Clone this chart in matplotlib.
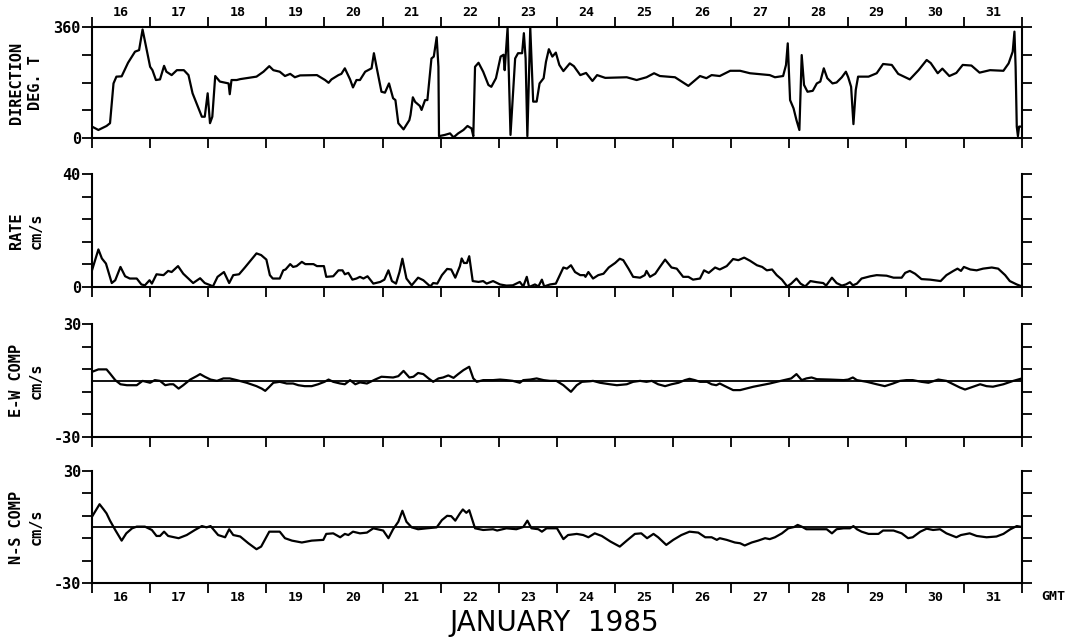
import matplotlib
matplotlib.use("Agg")
import matplotlib.pyplot as plt
from matplotlib.ticker import FixedLocator, FixedFormatter, NullFormatter

# ---------------------------------------------------------------- data
day_labels = [str(d) for d in range(16, 32)]

dir_day = [16.00, 16.11, 16.25, 16.31, 16.37, 16.42, 16.51, 16.62, 16.74, 16.81, 16.87,
           17.00, 17.04, 17.10, 17.17, 17.24, 17.28, 17.37, 17.46, 17.58, 17.66, 17.73,
           17.80, 17.89, 17.94, 17.99, 18.03, 18.07, 18.12, 18.20, 18.35, 18.37, 18.40,
           18.49, 18.55, 18.83, 18.95, 19.05, 19.12, 19.23, 19.32, 19.41, 19.49, 19.58,
           19.87, 20.01, 20.07, 20.12, 20.24, 20.29, 20.35, 20.44, 20.49, 20.55, 20.61,
           20.70, 20.81, 20.85, 20.90, 20.98, 21.04, 21.11, 21.18, 21.22, 21.27, 21.36,
           21.46, 21.48, 21.52, 21.56, 21.64, 21.67, 21.73, 21.77, 21.84, 21.88, 21.93,
           21.96, 21.97, 22.07, 22.16, 22.22, 22.30, 22.39, 22.46, 22.53, 22.56, 22.59,
           22.65, 22.73, 22.82, 22.87, 22.95, 23.03, 23.08, 23.10, 23.15, 23.20, 23.28,
           23.33, 23.40, 23.43, 23.46, 23.49, 23.54, 23.59, 23.65, 23.70, 23.77, 23.81,
           23.86, 23.92, 23.98, 24.04, 24.11, 24.22, 24.29, 24.40, 24.50, 24.61, 24.69,
           24.83, 25.20, 25.37, 25.54, 25.67, 25.77, 26.03, 26.26, 26.46, 26.57, 26.66,
           26.80, 26.98, 27.15, 27.32, 27.66, 27.75, 27.89, 27.94, 27.97, 28.01, 28.07,
           28.12, 28.17, 28.21, 28.25, 28.31, 28.40, 28.47, 28.53, 28.59, 28.65, 28.74,
           28.81, 28.90, 28.97, 29.01, 29.06, 29.10, 29.14, 29.18, 29.36, 29.50, 29.61,
           29.76, 29.87, 30.07, 30.22, 30.36, 30.43, 30.55, 30.63, 30.75, 30.87, 30.98,
           31.13, 31.27, 31.45, 31.68, 31.77, 31.84, 31.87, 31.89, 31.91, 31.93, 31.95,
           32.00]
dir_deg = [37, 26, 39, 48, 177, 199, 200, 244, 280, 285, 352,
           231, 220, 188, 190, 234, 215, 204, 220, 220, 204, 145,
           112, 69, 69, 145, 48, 69, 201, 183, 177, 142, 188,
           188, 191, 199, 215, 233, 220, 215, 201, 208, 197, 203,
           204, 188, 179, 190, 204, 208, 226, 190, 164, 188, 188,
           215, 226, 275, 226, 150, 147, 177, 129, 123, 48, 28,
           58, 75, 132, 117, 104, 91, 123, 123, 258, 264, 327,
           231, 6, 10, 15, 2, 15, 26, 39, 31, 6, 231,
           244, 215, 172, 166, 194, 264, 270, 220, 358, 10, 258,
           275, 275, 340, 258, 6, 358, 118, 118, 177, 194, 247,
           288, 264, 277, 237, 217, 242, 233, 204, 211, 185, 204,
           195, 197, 188, 197, 210, 201, 197, 169, 201, 194, 204,
           201, 218, 218, 210, 204, 197, 201, 237, 307, 123, 96,
           58, 26, 269, 172, 150, 153, 177, 183, 226, 194, 177,
           180, 197, 215, 197, 166, 45, 156, 199, 199, 210, 240,
           237, 208, 190, 220, 253, 243, 210, 225, 201, 211, 237,
           235, 212, 220, 218, 242, 280, 345, 231, 37, 6, 37,
           37]

rate_day = [16.00, 16.11, 16.17, 16.24, 16.34, 16.40, 16.49, 16.57, 16.65, 16.77, 16.85,
            16.91, 16.99, 17.03, 17.11, 17.23, 17.31, 17.37, 17.48, 17.57, 17.74, 17.86,
            17.94, 18.04, 18.08, 18.16, 18.27, 18.36, 18.43, 18.53, 18.63, 18.71, 18.83,
            18.91, 19.00, 19.06, 19.11, 19.23, 19.29, 19.33, 19.41, 19.46, 19.52, 19.61,
            19.67, 19.81, 19.87, 19.99, 20.03, 20.15, 20.24, 20.31, 20.35, 20.41, 20.48,
            20.55, 20.61, 20.67, 20.74, 20.84, 20.96, 21.03, 21.10, 21.16, 21.23, 21.29,
            21.34, 21.41, 21.50, 21.61, 21.70, 21.82, 21.87, 21.94, 22.02, 22.11, 22.18,
            22.25, 22.33, 22.36, 22.40, 22.45, 22.49, 22.55, 22.65, 22.73, 22.79, 22.90,
            23.02, 23.13, 23.24, 23.36, 23.42, 23.48, 23.52, 23.62, 23.68, 23.74, 23.78,
            23.88, 23.98, 24.11, 24.17, 24.24, 24.31, 24.40, 24.47, 24.49, 24.54, 24.62,
            24.71, 24.80, 24.89, 25.00, 25.08, 25.14, 25.23, 25.31, 25.43, 25.51, 25.54,
            25.60, 25.69, 25.77, 25.86, 25.97, 26.06, 26.17, 26.26, 26.34, 26.46, 26.53,
            26.61, 26.72, 26.80, 26.92, 27.03, 27.12, 27.22, 27.32, 27.44, 27.53, 27.61,
            27.70, 27.78, 27.87, 27.96, 28.03, 28.12, 28.19, 28.27, 28.36, 28.47, 28.58,
            28.63, 28.73, 28.81, 28.90, 28.97, 29.04, 29.09, 29.16, 29.24, 29.39, 29.50,
            29.67, 29.79, 29.93, 29.99, 30.07, 30.16, 30.27, 30.42, 30.60, 30.70, 30.82,
            30.89, 30.95, 31.00, 31.11, 31.22, 31.33, 31.48, 31.59, 31.71, 31.79, 31.91,
            32.00]
rate_cms = [5.9, 13.3, 10.1, 8.3, 1.4, 2.4, 7.1, 3.8, 3.0, 3.0, 0.9,
            0.6, 2.4, 1.2, 4.5, 4.2, 5.7, 5.3, 7.4, 4.7, 1.4, 3.1,
            1.4, 0.6, 0.2, 3.6, 5.3, 1.4, 4.2, 4.5, 6.9, 8.9, 11.9,
            11.3, 9.7, 4.2, 3.0, 3.0, 5.9, 6.2, 8.1, 7.1, 7.4, 8.9,
            8.1, 8.1, 7.4, 7.4, 3.6, 3.8, 5.9, 5.9, 4.5, 5.0, 2.6,
            3.0, 3.6, 3.0, 3.8, 1.2, 1.8, 2.6, 5.9, 2.1, 1.2, 5.3,
            10.0, 3.0, 0.6, 3.3, 2.4, 0.2, 1.4, 1.2, 4.2, 6.4, 6.2,
            3.3, 7.4, 10.1, 8.5, 8.5, 10.9, 2.1, 1.8, 2.1, 1.2, 2.1,
            0.9, 0.5, 0.6, 1.8, 0.2, 3.6, 0.0, 0.9, 0.2, 2.6, 0.2,
            0.9, 1.2, 6.9, 6.5, 7.7, 5.3, 4.2, 4.2, 3.6, 5.3, 3.0,
            4.2, 4.7, 6.9, 8.5, 10.0, 9.5, 6.5, 3.6, 3.3, 4.2, 5.7,
            3.6, 4.7, 7.1, 9.7, 6.9, 6.5, 3.6, 3.6, 2.6, 3.0, 5.9,
            5.0, 6.9, 6.2, 7.4, 9.9, 9.5, 10.4, 9.3, 7.7, 7.1, 5.9,
            6.2, 4.2, 2.6, 0.2, 1.2, 3.0, 1.2, 0.2, 2.1, 1.7, 1.4,
            0.5, 3.3, 1.4, 0.5, 0.9, 1.7, 0.6, 1.2, 3.0, 3.8, 4.2,
            4.0, 3.3, 3.3, 5.0, 5.7, 4.7, 2.8, 2.6, 2.1, 4.2, 5.7,
            6.5, 5.7, 7.1, 6.2, 5.9, 6.5, 6.9, 6.5, 4.2, 2.1, 0.9,
            0.2]

ew_day = [16.00, 16.11, 16.25, 16.31, 16.40, 16.49, 16.60, 16.77, 16.87, 17.00, 17.08,
          17.17, 17.26, 17.34, 17.40, 17.49, 17.57, 17.69, 17.80, 17.86, 17.94, 18.04,
          18.15, 18.26, 18.37, 18.49, 18.66, 18.83, 18.92, 18.98, 19.04, 19.12, 19.23,
          19.35, 19.46, 19.55, 19.66, 19.78, 19.89, 20.00, 20.07, 20.15, 20.27, 20.35,
          20.44, 20.53, 20.61, 20.73, 20.87, 20.98, 21.18, 21.27, 21.36, 21.46, 21.53,
          21.61, 21.70, 21.79, 21.87, 21.96, 22.04, 22.13, 22.22, 22.30, 22.39, 22.49,
          22.56, 22.62, 22.73, 22.90, 23.02, 23.13, 23.24, 23.36, 23.42, 23.54, 23.65,
          23.77, 23.88, 23.99, 24.11, 24.24, 24.34, 24.43, 24.57, 24.62, 24.74, 24.91,
          25.03, 25.20, 25.31, 25.43, 25.54, 25.63, 25.74, 25.86, 25.97, 26.09, 26.20,
          26.28, 26.37, 26.46, 26.58, 26.66, 26.74, 26.80, 26.89, 27.03, 27.15, 27.38,
          27.66, 27.78, 27.95, 28.03, 28.12, 28.21, 28.29, 28.38, 28.47, 28.70, 28.93,
          29.01, 29.09, 29.16, 29.33, 29.50, 29.64, 29.78, 29.90, 30.01, 30.12, 30.27,
          30.39, 30.56, 30.70, 30.82, 30.93, 31.02, 31.16, 31.28, 31.39, 31.50, 31.68,
          31.85, 32.00]
ew_cms = [4.6, 5.9, 5.9, 3.7, 0.2, -2.0, -2.5, -2.5, -0.2, -1.2, 0.2,
          -0.2, -2.5, -2.0, -2.0, -4.3, -2.5, 0.5, 2.3, 3.4, 2.0, 0.5,
          -0.2, 1.1, 1.1, 0.2, -1.2, -3.0, -4.3, -5.5, -3.7, -1.2, -0.7,
          -1.6, -1.6, -2.5, -3.0, -3.0, -2.0, -0.7, 0.5, -0.7, -1.6, -2.0,
          0.2, -2.0, -1.0, -1.6, 0.5, 2.0, 1.6, 2.3, 5.1, 1.6, 2.0,
          4.0, 3.4, 1.1, -0.7, 1.1, 1.6, 2.7, 1.4, 3.4, 5.5, 7.3,
          1.1, -0.7, 0.2, 0.2, 0.5, 0.2, -0.2, -1.2, 0.2, 0.5, 1.1,
          0.2, -0.2, -0.2, -2.5, -6.0, -2.5, -0.7, -0.4, -0.2, -1.2, -2.0,
          -2.5, -2.0, -0.7, -0.2, -0.7, -0.2, -2.0, -3.0, -2.0, -1.2, 0.2,
          0.9, 0.2, -0.7, -0.7, -2.0, -2.5, -1.6, -3.0, -5.1, -5.1, -3.3,
          -1.6, -0.7, 0.5, 1.1, 3.4, 0.2, 1.1, 1.6, 0.7, 0.5, 0.2,
          0.5, 1.6, 0.2, -0.7, -2.0, -3.0, -1.6, -0.2, 0.2, 0.2, -0.7,
          -1.2, 0.5, -0.2, -2.0, -3.7, -4.8, -3.3, -2.0, -3.0, -3.3, -2.0,
          -0.2, 1.1]

ns_day = [16.00, 16.13, 16.20, 16.25, 16.31, 16.40, 16.51, 16.59, 16.69, 16.77, 16.91,
          17.03, 17.11, 17.17, 17.24, 17.31, 17.49, 17.63, 17.77, 17.89, 17.97, 18.04,
          18.17, 18.29, 18.36, 18.43, 18.55, 18.69, 18.83, 18.91, 19.05, 19.23, 19.32,
          19.44, 19.61, 19.78, 19.98, 20.03, 20.15, 20.27, 20.35, 20.41, 20.49, 20.61,
          20.73, 20.84, 21.01, 21.10, 21.18, 21.27, 21.34, 21.41, 21.50, 21.61, 21.76,
          21.93, 22.02, 22.11, 22.18, 22.25, 22.33, 22.38, 22.44, 22.49, 22.59, 22.73,
          22.90, 22.97, 23.13, 23.30, 23.42, 23.49, 23.56, 23.68, 23.74, 23.82, 24.00,
          24.11, 24.19, 24.34, 24.45, 24.54, 24.65, 24.77, 24.92, 25.08, 25.20, 25.34,
          25.45, 25.55, 25.66, 25.74, 25.88, 26.00, 26.14, 26.28, 26.43, 26.55, 26.66,
          26.75, 26.80, 26.92, 27.06, 27.15, 27.23, 27.35, 27.46, 27.58, 27.66, 27.75,
          27.87, 27.98, 28.08, 28.14, 28.21, 28.29, 28.52, 28.64, 28.73, 28.81, 28.93,
          29.04, 29.10, 29.16, 29.24, 29.36, 29.53, 29.61, 29.79, 29.93, 30.04, 30.12,
          30.25, 30.36, 30.47, 30.59, 30.70, 30.87, 30.95, 31.10, 31.22, 31.39, 31.56,
          31.68, 31.80, 31.91, 32.00]
ns_cms = [5.5, 12.2, 9.4, 7.3, 3.4, -1.6, -7.3, -3.4, -0.7, 0.2, 0.2,
          -1.6, -4.8, -4.8, -2.5, -4.8, -6.0, -4.3, -1.6, 0.5, -0.2, 0.5,
          -4.3, -5.5, -1.2, -4.3, -5.1, -8.7, -11.9, -10.5, -2.5, -2.5, -6.0,
          -7.3, -8.3, -7.3, -6.9, -3.7, -3.4, -5.5, -3.7, -4.3, -2.5, -3.4,
          -3.0, -0.7, -1.9, -6.0, -1.2, 2.8, 8.7, 2.8, -0.2, -1.2, -0.7,
          -0.2, 3.7, 6.0, 5.8, 3.4, 7.3, 9.4, 7.6, 9.0, -0.7, -1.6,
          -1.2, -1.9, -0.7, -1.2, 0.0, 3.4, -0.7, -1.2, -2.5, -0.7, -0.7,
          -6.5, -4.3, -3.7, -4.3, -5.5, -3.4, -4.8, -7.8, -10.5, -7.3, -3.7,
          -3.4, -6.0, -3.7, -5.5, -9.6, -6.9, -4.3, -2.5, -3.0, -5.5, -5.5,
          -6.9, -6.0, -6.9, -8.3, -8.7, -9.9, -8.3, -7.3, -6.0, -6.5, -5.5,
          -3.4, -0.7, 0.0, 1.1, 0.2, -1.2, -1.2, -1.2, -3.4, -1.2, -0.7,
          -0.7, 0.5, -1.2, -2.5, -3.7, -3.7, -1.9, -1.9, -3.4, -6.0, -5.5,
          -2.5, -0.9, -1.6, -1.2, -3.4, -5.5, -4.3, -3.4, -4.8, -5.5, -5.1,
          -3.7, -1.2, 0.5, 0.0]

# ---------------------------------------------------------------- layout
W, H = 1073, 640
fig = plt.figure(figsize=(W / 100, H / 100), dpi=100)

MONO = "DejaVu Sans Mono"
LINE = dict(color="black", lw=1.6, solid_joinstyle="round")


def px_rect(left, top, right, bottom):
    return [left / W, 1 - bottom / H, (right - left) / W, (bottom - top) / H]


panels = [
    dict(rect=px_rect(92, 27, 1022, 138), x=dir_day, y=dir_deg,
         lim=(0, 360), step=90, names=("DIRECTION", "DEG. T"), zero=False, top=True),
    dict(rect=px_rect(92, 174, 1022, 287), x=rate_day, y=rate_cms,
         lim=(0, 40), step=8, names=("RATE", "cm/s"), zero=False, top=False),
    dict(rect=px_rect(92, 324, 1022, 437), x=ew_day, y=ew_cms,
         lim=(-30, 30), step=12, names=("E-W COMP", "cm/s"), zero=True, top=False),
    dict(rect=px_rect(92, 471, 1022, 583), x=ns_day, y=ns_cms,
         lim=(-30, 30), step=12, names=("N-S COMP", "cm/s"), zero=True, top=False),
]

day_edges = list(range(16, 33))
day_mids = [d + 0.5 for d in range(16, 32)]

for i, p in enumerate(panels):
    ax = fig.add_axes(p["rect"])
    ax.plot(p["x"], p["y"], **LINE)
    if p["zero"]:
        ax.axhline(0, color="black", lw=1.3)

    lo, hi = p["lim"]
    ax.set_xlim(16, 32)
    ax.set_ylim(lo, hi)

    for side in ("left", "right", "bottom", "top"):
        ax.spines[side].set_linewidth(1.5)
    ax.spines["top"].set_visible(p["top"])

    # y ticks: outward on both sides, only end values labelled
    yt = [lo + k * p["step"] for k in range(int((hi - lo) / p["step"]) + 1)]
    ax.yaxis.set_major_locator(FixedLocator(yt))
    ax.yaxis.set_major_formatter(
        FixedFormatter([f"{v:g}" if v in (lo, hi) else "" for v in yt]))
    ax.tick_params(axis="y", which="major", direction="out", length=7, width=1.3,
                   left=True, right=True, labelleft=True, labelright=False, pad=1,
                   labelsize=11)
    for lab in ax.get_yticklabels():
        lab.set_family(MONO)
        lab.set_fontweight("bold")

    # x ticks: day boundaries as ticks, day numbers centred between them
    ax.xaxis.set_major_locator(FixedLocator(day_edges))
    ax.xaxis.set_major_formatter(NullFormatter())
    ax.xaxis.set_minor_locator(FixedLocator(day_mids))
    ax.xaxis.set_minor_formatter(FixedFormatter(day_labels))
    ax.tick_params(axis="x", which="major", direction="out", length=7, width=1.3,
                   bottom=True, top=p["top"])
    last = i == len(panels) - 1
    ax.tick_params(axis="x", which="minor", length=0, pad=6, labelsize=9.5,
                   bottom=True, top=p["top"], labelbottom=last, labeltop=p["top"])
    for lab in ax.get_xticklabels(minor=True):
        lab.set_family(MONO)
        lab.set_fontweight("bold")

    # two-line axis caption at the left
    yc = p["rect"][1] + p["rect"][3] / 2
    fig.text(17 / W, yc, p["names"][0], rotation=90, ha="center", va="center",
             family=MONO, fontweight="bold", fontsize=11)
    fig.text(36 / W, yc, p["names"][1], rotation=90, ha="center", va="center",
             family=MONO, fontweight="bold", fontsize=11)

fig.text(1053 / W, 1 - 597 / H, "GMT", ha="center", va="center",
         family=MONO, fontweight="bold", fontsize=9.5)
fig.text(554 / W, 1 - 623 / H, "JANUARY  1985", ha="center", va="center",
         family="DejaVu Sans", fontweight="normal", fontsize=20)

fig.savefig("out.png", dpi=100)
